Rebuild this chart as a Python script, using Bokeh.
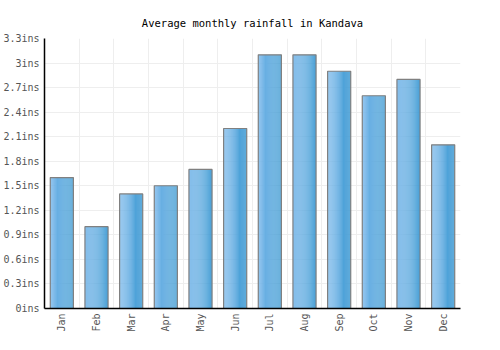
import math
from bokeh.plotting import figure
from bokeh.models import FixedTicker, CustomJSTickFormatter, Range1d
from bokeh.embed import file_html
from bokeh.resources import INLINE

months = ["Jan", "Feb", "Mar", "Apr", "May", "Jun", "Jul", "Aug", "Sep", "Oct", "Nov", "Dec"]
rainfall = [1.6, 1.0, 1.4, 1.5, 1.7, 2.2, 3.1, 3.1, 2.9, 2.6, 2.8, 2.0]
yticks = [0, 0.3, 0.6, 0.9, 1.2, 1.5, 1.8, 2.1, 2.4, 2.7, 3.0, 3.3]

FONT = "DejaVu Sans Mono"

p = figure(width=500, height=350, output_backend="svg", toolbar_location=None,
           x_range=Range1d(0, len(months)), y_range=Range1d(0, 3.3),
           title="Average monthly rainfall in Kandava",
           min_border_left=41, min_border_right=40, min_border_top=38, min_border_bottom=42)

p.title.align = "center"
p.title.text_font = FONT
p.title.text_font_size = "10.5px"
p.title.text_font_style = "normal"
p.title.text_color = "#000000"
p.title.standoff = 20

centers = [i + 0.5 for i in range(len(months))]
bw = 0.667
N = 24
c0 = (122, 184, 234)
c1 = (58, 152, 210)
for k in range(N):
    t = k / (N - 1)
    col = "#%02x%02x%02x" % tuple(int(round(a + (b - a) * t)) for a, b in zip(c0, c1))
    xs = [c - bw / 2 + (k + 0.5) * bw / N for c in centers]
    p.vbar(x=xs, top=rainfall, bottom=0, width=bw / N * 1.02, fill_color=col, line_color=None)

p.vbar(x=centers, top=rainfall, bottom=0, width=bw, fill_alpha=0, line_color="#808080", line_width=1.2)

p.xaxis.ticker = FixedTicker(ticks=centers)
p.xaxis.major_label_overrides = {c: m for c, m in zip(centers, months)}
p.xaxis.major_label_orientation = math.pi / 2
p.yaxis.ticker = FixedTicker(ticks=yticks)
p.yaxis.formatter = CustomJSTickFormatter(code="return (Math.round(tick*10)/10) + 'ins';")

for ax in (p.xaxis, p.yaxis):
    ax.major_tick_line_color = None
    ax.minor_tick_line_color = None
    ax.major_tick_out = 0
    ax.major_tick_in = 0
    ax.minor_tick_out = 0
    ax.axis_line_color = "#000000"
    ax.axis_line_width = 1.5
    ax.major_label_text_font = FONT
    ax.major_label_text_font_size = "10px"
    ax.major_label_text_color = "#555555"
    ax.major_label_standoff = 5

p.xgrid.ticker = FixedTicker(ticks=list(range(len(months) + 1)))
p.xgrid.grid_line_color = "#eeeeee"
p.ygrid.grid_line_color = "#eeeeee"
p.outline_line_color = None
p.background_fill_color = "#ffffff"

open("out.html", "w").write(file_html(p, INLINE))
